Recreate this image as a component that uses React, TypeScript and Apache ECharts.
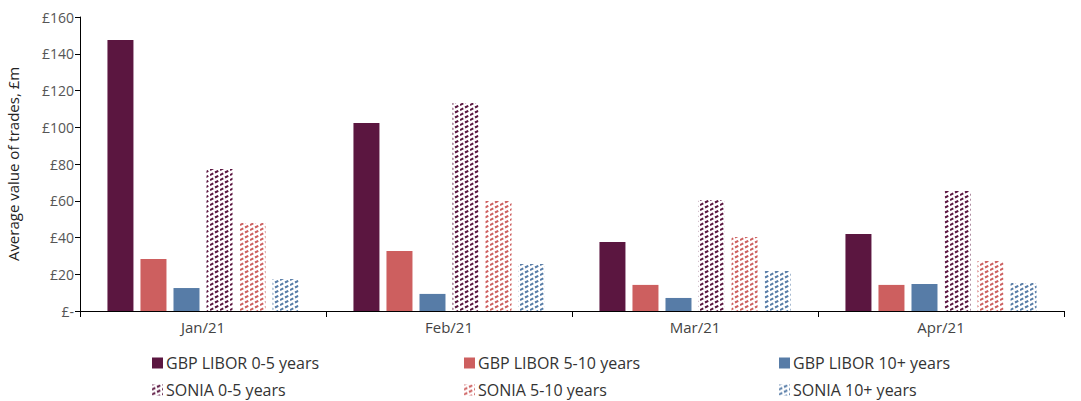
import React, { useEffect, useRef } from "react";
import * as echarts from "echarts";

const categories = ["Jan/21", "Feb/21", "Mar/21", "Apr/21"];
const seriesNames = [
  "GBP LIBOR 0-5 years",
  "GBP LIBOR 5-10 years",
  "GBP LIBOR 10+ years",
  "SONIA 0-5 years",
  "SONIA 5-10 years",
  "SONIA 10+ years",
];
const liborShort = [147.5, 102.3, 37.6, 41.9];
const liborMid = [28.3, 32.7, 14.2, 14.2];
const liborLong = [12.5, 9.3, 7.1, 14.7];
const soniaShort = [77.3, 113.2, 60.4, 65.3];
const soniaMid = [47.9, 59.9, 40.3, 27.2];
const soniaLong = [17.4, 25.6, 21.8, 15.2];
const yTicks = [0, 20, 40, 60, 80, 100, 120, 140, 160];

const colors = ["#5B1640", "#CD5F5F", "#577CA7"];
const FONT = "Open Sans";

function hatch(color: string) {
  const w = 10;
  const h = 5;
  const c = document.createElement("canvas");
  c.width = w;
  c.height = h;
  const ctx = c.getContext("2d")!;
  ctx.fillStyle = "#ffffff";
  ctx.fillRect(0, 0, w, h);
  ctx.strokeStyle = color;
  ctx.lineWidth = 2;
  ctx.setLineDash([3.7, 1.89]);
  for (let k = -1; k <= 1; k++) {
    ctx.beginPath();
    ctx.moveTo(0, h + k * h);
    ctx.lineTo(w, 0 + k * h);
    ctx.stroke();
  }
  return { image: c, repeat: "repeat" } as any;
}

export default function App() {
  const ref = useRef<HTMLDivElement>(null);
  useEffect(() => {
    const chart = echarts.init(ref.current!, null, { renderer: "svg" });
    const values = [liborShort, liborMid, liborLong, soniaShort, soniaMid, soniaLong];
    const fills = [colors[0], colors[1], colors[2], hatch(colors[0]), hatch(colors[1]), hatch(colors[2])];
    const legendLeft = [152, 464, 779];
    const legendTop = [355, 382];
    chart.setOption({
      animation: false,
      textStyle: { fontFamily: FONT },
      grid: { left: 80, right: 17, top: 17, bottom: 90, outerBoundsMode: "none" },
      legend: seriesNames.map((n, i) => ({
        data: [n],
        left: legendLeft[i % 3],
        top: legendTop[Math.floor(i / 3)],
        icon: "rect",
        itemWidth: 11,
        itemHeight: 11,
        itemGap: 6,
        padding: 0,
        textStyle: { fontFamily: FONT, fontSize: 16, color: "#333", padding: [0, 0, 0, -2] },
      })),
      xAxis: {
        type: "category",
        data: categories,
        axisLine: { lineStyle: { color: "#000", width: 1 } },
        axisTick: { show: true, length: 6, lineStyle: { color: "#000" } },
        axisLabel: { fontFamily: FONT, fontSize: 15, color: "#444", margin: 8 },
      },
      yAxis: {
        type: "value",
        min: 0,
        max: 160,
        interval: 20,
        name: "Average value of trades, £m",
        nameLocation: "middle",
        nameGap: 60,
        nameTextStyle: { fontFamily: FONT, fontSize: 15, color: "#222" },
        axisLine: { show: true, lineStyle: { color: "#000", width: 1 } },
        axisTick: { show: true, length: 5, lineStyle: { color: "#000" } },
        splitLine: { show: false },
        axisLabel: {
          fontFamily: FONT,
          fontSize: 14,
          color: "#555",
          margin: 6,
          formatter: (v: number) => (yTicks.includes(v) ? (v === 0 ? "£-" : "£" + v) : ""),
        },
      },
      series: seriesNames.map((n, i) => ({
        name: n,
        type: "bar",
        data: values[i],
        barWidth: 26,
        barGap: "27%",
        barCategoryGap: "22%",
        itemStyle: { color: fills[i] },
      })),
    });
    return () => chart.dispose();
  }, []);
  return (
    <div
      ref={ref}
      style={{ position: "absolute", left: 0, top: 0, width: 1081, height: 401 }}
    />
  );
}
